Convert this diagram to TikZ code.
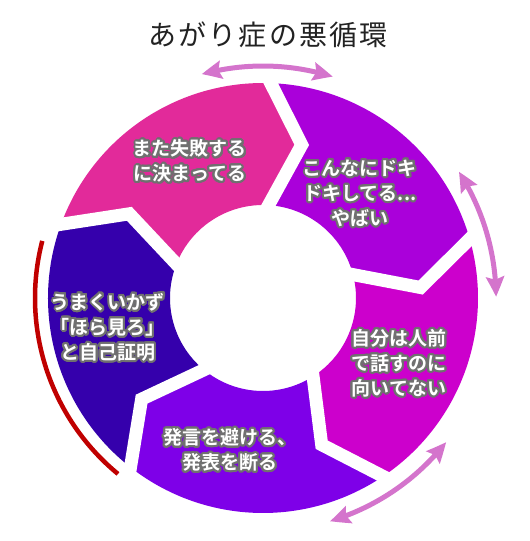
\documentclass[tikz,border=0pt]{standalone}
\usepackage{fontspec}
\usepackage[copies]{contour}
\usetikzlibrary{arrows.meta,bending}
\setmainfont{Noto Sans CJK JP}
\newfontfamily\titlefont{Noto Sans CJK JP}[LetterSpace=8]
\newfontfamily\segfont{Noto Sans CJK JP Bold}
\definecolor{pinkc}{HTML}{E22A9A}
\definecolor{purplec}{HTML}{AA00DA}
\definecolor{magc}{HTML}{CC00CC}
\definecolor{violc}{HTML}{7E00E8}
\definecolor{bluec}{HTML}{3500AC}
\definecolor{arrowc}{HTML}{D474CC}
\definecolor{redc}{HTML}{C00000}
\definecolor{outc}{HTML}{707070}
\definecolor{titlec}{HTML}{222222}
\contourlength{2pt}
\contournumber{32}
\tikzset{
  seglabel/.style={text=white, align=center, font=\segfont\fontsize{19}{25}\selectfont, inner sep=0pt},
  cyclearrow/.style={draw=arrowc, line width=5pt, {Stealth[length=20pt, width=18pt, inset=3pt, bend]}-{Stealth[length=20pt, width=18pt, inset=3pt, bend]}},
  gapline/.style={draw=white, line width=13pt, miter limit=20, line join=miter},
}
\newcommand{\oline}[1]{\contour{outc}{#1}}
\begin{document}
\begin{tikzpicture}[x=1pt, y=1pt]
\useasboundingbox (-263,-243) rectangle (267,298);
% segments
\foreach \b/\c in {160.8/pinkc, 88.8/purplec, 16.8/magc, -55.2/violc, -127.2/bluec}{
  \fill[\c] (\b:215) arc[start angle=\b, end angle={\b-72}, radius=215]
    -- ({\b-85}:158) -- ({\b-72}:93)
    arc[start angle={\b-72}, end angle=\b, radius=93]
    -- ({\b-13}:158) -- cycle;
}
% gaps
\foreach \b in {160.8, 88.8, 16.8, -55.2, -127.2}{
  \path[gapline] (\b:221) -- ({\b-13}:158) -- (\b:86);
}
% arrows
\draw[cyclearrow] (105.3:232) arc[start angle=105.3, end angle=72.5, radius=232];
\draw[cyclearrow] (32.8:233) arc[start angle=32.8, end angle=0.3, radius=233];
\draw[cyclearrow] (-38.2:233) arc[start angle=-38.2, end angle=-73.3, radius=233];
\draw[redc, line width=4.5pt] (165.5:228) arc[start angle=165.5, end angle=230.5, radius=228];
% title
\node[font=\titlefont\fontsize{28}{30}\selectfont, text=titlec, inner sep=0pt] (title) at (5,263.5) {あがり症の悪循環};
% labels
\node[seglabel] (l1) at (-73,136) {\oline{また失敗する}\\\oline{に決まってる}};
\node[seglabel] (l2) at (97,104) {\oline{こんなにドキ}\\\oline{ドキしてる...}\\\oline{やばい}};
\node[seglabel] (l3) at (136,-66) {\oline{自分は人前}\\\oline{で話すのに}\\\oline{向いてない}};
\node[seglabel] (l4) at (-33,-153) {\oline{発言を避ける、}\\\oline{発表を断る}};
\node[seglabel] (l5) at (-155,-30) {\oline{うまくいかず}\\\oline{「ほら見ろ」}\\\oline{と自己証明}};
\end{tikzpicture}
\end{document}
